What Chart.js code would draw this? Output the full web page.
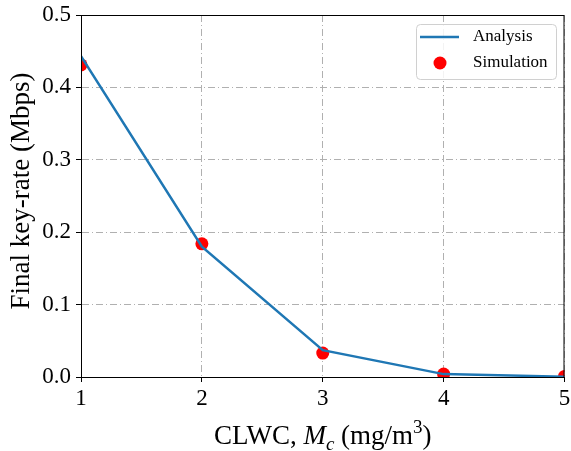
<!DOCTYPE html>
<html>
<head>
<meta charset="utf-8">
<script src="https://cdn.jsdelivr.net/npm/chart.js@4"></script>
<style>
  html, body { margin: 0; padding: 0; background: #fff; }
</style>
</head>
<body>
<canvas id="keyRateChart" width="571" height="451"></canvas>
<script>
const clwc = [1, 2, 3, 4, 5];
const analysis = [0.443, 0.180, 0.037, 0.004, 0.0005];
const simulation = [0.431, 0.184, 0.033, 0.004, 0.0008];
const yTicks = [0, 0.1, 0.2, 0.3, 0.4, 0.5];

const serif = "'Liberation Serif', 'Times New Roman', serif";

// frame, axis titles (x has italic/sub/superscript), legend box
const decorations = {
  id: 'decorations',
  afterDraw(chart) {
    const { ctx, chartArea: a } = chart;
    ctx.save();
    ctx.strokeStyle = '#000';
    ctx.lineWidth = 1;
    ctx.strokeRect(a.left + 0.5, a.top + 0.5, a.right - a.left - 1, a.bottom - a.top);

    // y title
    ctx.save();
    ctx.translate(22, 191);
    ctx.rotate(-Math.PI / 2);
    ctx.font = `27px ${serif}`;
    ctx.fillStyle = '#000';
    ctx.textAlign = 'center';
    ctx.textBaseline = 'middle';
    ctx.fillText('Final key-rate (Mbps)', 0, 0);
    ctx.restore();

    // x title: CLWC, M_c (mg/m^3)
    const parts = [
      { t: 'CLWC, ', f: `27px ${serif}`, dy: 0 },
      { t: 'M', f: `italic 27px ${serif}`, dy: 0 },
      { t: 'c', f: `italic 19px ${serif}`, dy: 6 },
      { t: ' (mg/m', f: `27px ${serif}`, dy: 0 },
      { t: '3', f: `19px ${serif}`, dy: -11 },
      { t: ')', f: `27px ${serif}`, dy: 0 },
    ];
    let total = 0;
    parts.forEach(p => { ctx.font = p.f; p.w = ctx.measureText(p.t).width; total += p.w; });
    let x = (a.left + a.right) / 2 - total / 2;
    const base = 444;
    ctx.fillStyle = '#000';
    ctx.textBaseline = 'alphabetic';
    parts.forEach(p => {
      ctx.font = p.f;
      ctx.fillText(p.t, x, base + p.dy);
      x += p.w;
    });

    // legend
    const bx = 416, by = 24, bw = 140, bh = 55, r = 4;
    ctx.beginPath();
    ctx.roundRect(bx + 0.5, by + 0.5, bw, bh, r);
    ctx.fillStyle = 'rgba(255,255,255,0.85)';
    ctx.fill();
    ctx.strokeStyle = '#d0d0d0';
    ctx.stroke();

    ctx.strokeStyle = '#1f77b4';
    ctx.lineWidth = 2.5;
    ctx.beginPath();
    ctx.moveTo(420, 37);
    ctx.lineTo(459, 37);
    ctx.stroke();

    ctx.fillStyle = '#ff0000';
    ctx.beginPath();
    ctx.arc(440, 63, 6.5, 0, Math.PI * 2);
    ctx.fill();

    ctx.fillStyle = '#000';
    ctx.font = `17px ${serif}`;
    ctx.textBaseline = 'middle';
    ctx.fillText('Analysis', 473, 37);
    ctx.fillText('Simulation', 473, 63);
    ctx.restore();
  }
};

const gridStyle = {
  color: '#b0b0b0',
  lineWidth: 1,
  tickColor: '#000',
  tickLength: 5,
  tickBorderDash: [],
};

new Chart(document.getElementById('keyRateChart'), {
  type: 'scatter',
  data: {
    datasets: [
      {
        label: 'Analysis',
        data: clwc.map((x, i) => ({ x, y: analysis[i] })),
        showLine: true,
        borderColor: '#1f77b4',
        borderWidth: 2.5,
        pointRadius: 0,
        pointHoverRadius: 0,
        fill: false,
        clip: 0,
        order: 1,
      },
      {
        label: 'Simulation',
        data: clwc.map((x, i) => ({ x, y: simulation[i] })),
        showLine: false,
        backgroundColor: '#ff0000',
        borderColor: '#ff0000',
        pointRadius: 6.5,
        pointBorderWidth: 0,
        clip: 0,
        order: 2,
      }
    ]
  },
  options: {
    responsive: false,
    animation: false,
    events: [],
    layout: { padding: { left: 0, right: 5, top: 15, bottom: 0 } },
    plugins: {
      legend: { display: false },
      tooltip: { enabled: false },
    },
    scales: {
      x: {
        type: 'linear',
        min: 1,
        max: 5,
        ticks: {
          stepSize: 1,
          color: '#000',
          font: { family: serif, size: 23 },
          padding: 3,
          maxRotation: 0,
        },
        grid: gridStyle,
        border: { color: '#000', width: 1, dash: [7, 3, 1, 3] },
        afterFit(scale) {
          scale.height = 74;
          scale.paddingLeft = 0;
          scale.paddingRight = 0;
        },
      },
      y: {
        min: 0,
        max: 0.5,
        afterBuildTicks(scale) {
          scale.ticks = yTicks.map(v => ({ value: v }));
        },
        ticks: {
          color: '#000',
          font: { family: serif, size: 23 },
          padding: 5,
          callback: v => v.toFixed(1),
        },
        grid: gridStyle,
        border: { color: '#000', width: 1, dash: [7, 3, 1, 3] },
        afterFit(scale) {
          scale.width = 81;
          scale.paddingTop = 0;
          scale.paddingBottom = 0;
        },
      }
    }
  },
  plugins: [decorations]
});
</script>
</body>
</html>
